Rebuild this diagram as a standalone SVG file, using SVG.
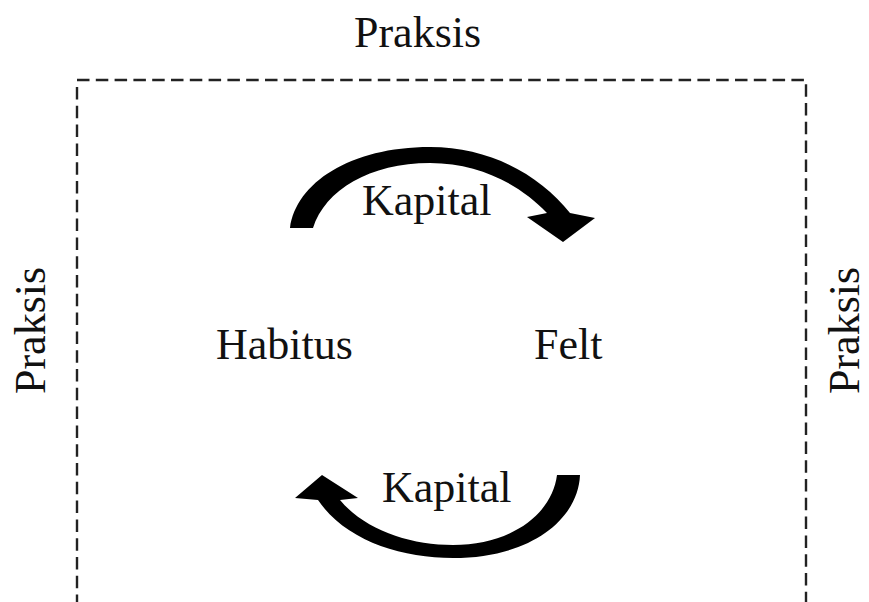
<svg xmlns="http://www.w3.org/2000/svg" width="869" height="602" viewBox="0 0 869 602">
  <style>
    .lbl { font-family: "Liberation Serif", "Times New Roman", serif; font-size: 44px; fill: #111; }
    .frame { fill: none; stroke: #222; stroke-width: 2.4; stroke-dasharray: 12.5 6.3; }
    .arrow { fill: #000; stroke: none; }
  </style>
  <rect width="869" height="602" fill="#fff"/>

  <!-- dashed practice frame, open at the bottom -->
  <g id="frame">
    <path class="frame" d="M77,80 H806 V602"/>
    <path class="frame" d="M77,87 V602"/>
  </g>

  <g id="praksis-top"><text class="lbl" x="354" y="47">Praksis</text></g>
  <g id="praksis-left"><text class="lbl" transform="translate(45,394) rotate(-90)">Praksis</text></g>
  <g id="praksis-right"><text class="lbl" transform="translate(859,394) rotate(-90)">Praksis</text></g>

  <g id="habitus"><text class="lbl" x="216" y="359">Habitus</text></g>
  <g id="felt"><text class="lbl" x="534" y="359">Felt</text></g>

  <!-- curved capital arrows between habitus and field -->
  <g id="connectors">
    <path class="arrow" d="M290,228 C296,183 350,147 430,147 C490,147 540,175 570,213 L595,218 L563,242 L527,217 L547,213 C520,185 480,163 430,163 C370,163 325,190 313,228 Z"/>
    <path class="arrow" d="M580,475 C578,520 530,558 453,558 C400,558 345,540 318,500 L295,498 L322,475 L358,498 L340,500 C365,530 410,545 453,545 C510,545 552,515 557,475 Z"/>
    <text class="lbl" x="362" y="215">Kapital</text>
    <text class="lbl" x="382" y="502">Kapital</text>
  </g>
</svg>
